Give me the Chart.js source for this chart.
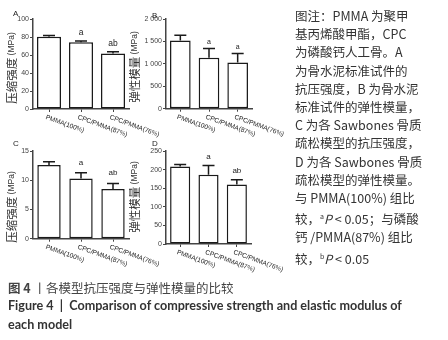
<!DOCTYPE html>
<html>
<head>
<meta charset="utf-8">
<script src="https://cdn.jsdelivr.net/npm/chart.js@4.4.0/dist/chart.umd.min.js"></script>
<style>
html, body { margin: 0; padding: 0; background: #fff; }
#page { position: relative; width: 448px; height: 340px; overflow: hidden; }
canvas { position: absolute; }
.note { position: absolute; left: 295px; top: 7px; font-family: "Noto Sans CJK SC"; font-size: 12.5px; line-height: 18.2px; color: #333; white-space: nowrap; }
.note sup { font-size: 7px; vertical-align: 5px; }
.cap1 { position: absolute; left: 8px; top: 278px; font-family: "Noto Sans CJK SC"; font-size: 12.5px; color: #444; white-space: nowrap; }
.cap2 { position: absolute; left: 8px; top: 296px; font-family: Lato; font-weight: bold; font-size: 12.5px; line-height: 19px; color: #333; white-space: nowrap; }
</style>
</head>
<body>
<div id="page">
  <canvas id="cA" width="180" height="150" style="left:0;top:0"></canvas>
  <canvas id="cB" width="185" height="150" style="left:118px;top:0"></canvas>
  <canvas id="cC" width="180" height="150" style="left:0;top:128px"></canvas>
  <canvas id="cD" width="185" height="150" style="left:118px;top:128px"></canvas>

  <div class="note">
    <div>图注：PMMA 为聚甲</div>
    <div>基丙烯酸甲酯，CPC</div>
    <div>为磷酸钙人工骨。A</div>
    <div>为骨水泥标准试件的</div>
    <div>抗压强度，B 为骨水泥</div>
    <div>标准试件的弹性模量，</div>
    <div>C 为各 Sawbones 骨质</div>
    <div>疏松模型的抗压强度，</div>
    <div>D 为各 Sawbones 骨质</div>
    <div>疏松模型的弹性模量。</div>
    <div>与 PMMA(100%) 组比</div>
    <div>较，<sup>a</sup><i>P</i> &lt; 0.05；与磷酸</div>
    <div>钙 /PMMA(87%) 组比</div>
    <div>较，<sup>b</sup><i>P</i> &lt; 0.05</div>
  </div>

  <div class="cap1"><b>图 4</b> 丨各模型抗压强度与弹性模量的比较</div>
  <div class="cap2"><span id="figline">Figure 4 &nbsp;|&nbsp; Comparison of compressive strength and elastic modulus of</span><br>each model</div>
</div>

<script>
// groups on the x axis
const groups = ['PMMA(100%)', 'CPC/PMMA(87%)', 'CPC/PMMA(76%)'];

// A: compressive strength, standard specimens (MPa)
const strengthStd = [80.3, 74.1, 61.7];
const strengthStdErr = [1.5, 1.5, 1.8];
const strengthStdSig = ['', 'a', 'ab'];

// B: elastic modulus, standard specimens (MPa)
const modulusStd = [1520, 1135, 1030];
const modulusStdErr = [120, 205, 200];
const modulusStdSig = ['', 'a', 'a'];

// C: compressive strength, Sawbones models (MPa)
const strengthBone = [12.6, 10.3, 8.5];
const strengthBoneErr = [0.55, 1.0, 0.95];
const strengthBoneSig = ['', 'a', 'ab'];

// D: elastic modulus, Sawbones models (MPa)
const modulusBone = [208, 186, 160];
const modulusBoneErr = [6, 25, 13];
const modulusBoneSig = ['', 'a', 'ab'];

const fmtThousands = v => v >= 1000 ? String(v).replace(/(\d)(\d{3})$/, '$1 $2') : v;

function makeDecor(o, offX, offY) {
    return {
        id: 'decor',
        afterDatasetsDraw(chart) {
            const ctx = chart.ctx;
            const y = chart.scales.y;
            const meta = chart.getDatasetMeta(0);
            ctx.save();
            ctx.strokeStyle = '#1a1a1a';
            ctx.lineWidth = 1.5;
            ctx.fillStyle = '#222';
            ctx.textAlign = 'center';
            ctx.textBaseline = 'alphabetic';
            ctx.font = o.sigSize + 'px "Liberation Sans"';
            o.values.forEach((v, i) => {
                const bx = meta.data[i].x;
                const yv = y.getPixelForValue(v);
                const ye = y.getPixelForValue(v + o.errs[i]);
                ctx.beginPath();
                ctx.moveTo(bx, yv);
                ctx.lineTo(bx, ye);
                ctx.moveTo(bx - 6, ye);
                ctx.lineTo(bx + 6, ye);
                ctx.stroke();
                if (o.sig[i]) ctx.fillText(o.sig[i], bx, ye - o.sigGap);
            });
            ctx.restore();
        },
        afterDraw(chart) {
            const ctx = chart.ctx;
            const x = chart.scales.x;
            ctx.save();
            // rotated group labels
            ctx.fillStyle = '#222';
            ctx.font = '6.5px "Liberation Sans"';
            ctx.textAlign = 'left';
            ctx.textBaseline = 'top';
            groups.forEach((g, i) => {
                const px = x.getPixelForTick(i);
                ctx.save();
                ctx.translate(px - 2, x.top + 5);
                ctx.rotate(20 * Math.PI / 180);
                ctx.fillText(g, 0, 0);
                ctx.restore();
            });
            // panel letter
            ctx.font = '8px "Liberation Sans"';
            ctx.fillText(o.letter, o.letterPos[0] - offX, o.letterPos[1] - offY);
            // y title, mixed sizes
            ctx.save();
            ctx.translate(o.titlePos[0] - offX, o.titlePos[1] - offY);
            ctx.rotate(-Math.PI / 2);
            ctx.textBaseline = 'middle';
            ctx.font = '11.5px "Noto Sans CJK SC"';
            const w1 = ctx.measureText(o.title).width;
            ctx.font = '8.5px "Liberation Sans"';
            const w2 = ctx.measureText(' (MPa)').width;
            const start = -(w1 + w2) / 2;
            ctx.fillStyle = '#333';
            ctx.font = '11.5px "Noto Sans CJK SC"';
            ctx.fillText(o.title, start, 0);
            ctx.font = '8.5px "Liberation Sans"';
            ctx.fillText(' (MPa)', start + w1, 0);
            ctx.restore();
            ctx.restore();
        }
    };
}

function makeChart(id, o) {
    const c = document.getElementById(id);
    const offX = parseFloat(c.style.left) || 0;
    const offY = parseFloat(c.style.top) || 0;
    const area = {
        left: o.area[0] - offX, top: o.area[1] - offY,
        right: o.area[2] - offX, bottom: o.area[3] - offY
    };
    return new Chart(c, {
        type: 'bar',
        data: {
            labels: groups,
            datasets: [{
                data: o.values,
                backgroundColor: '#fff',
                borderColor: '#1a1a1a',
                borderWidth: 1.5,
                borderSkipped: false,
                barPercentage: o.barPct,
                categoryPercentage: 1.0
            }]
        },
        options: {
            responsive: false,
            animation: false,
            layout: {padding: {left: 0, top: area.top, right: c.width - area.right, bottom: 0}},
            plugins: {legend: {display: false}, tooltip: {enabled: false}},
            scales: {
                x: {
                    grid: {offset: false, drawOnChartArea: false, drawTicks: true, tickLength: 3, color: '#444', lineWidth: 1},
                    border: {color: '#444', width: 1.5},
                    ticks: {display: false},
                    afterFit(s) { s.height = c.height - area.bottom; }
                },
                y: {
                    min: 0,
                    max: o.max,
                    ticks: {stepSize: o.step, font: {family: 'Liberation Sans', size: 7}, color: '#444', padding: 1, callback: fmtThousands},
                    grid: {drawOnChartArea: false, drawTicks: true, tickLength: 3, color: '#444', lineWidth: 1},
                    border: {color: '#444', width: 1.5},
                    afterFit(s) { s.width = area.left; }
                }
            }
        },
        plugins: [makeDecor(o, offX, offY)]
    });
}

makeChart('cA', {
    values: strengthStd, errs: strengthStdErr, sig: strengthStdSig,
    max: 100, step: 20, barPct: 0.75,
    area: [33, 19, 129, 109],
    letter: 'A', letterPos: [13, 10],
    title: '压缩强度', titlePos: [12, 68],
    sigSize: 8.5, sigGap: 6
});
makeChart('cB', {
    values: modulusStd, errs: modulusStdErr, sig: modulusStdSig,
    max: 2000, step: 500, barPct: 0.72,
    area: [166, 19, 252, 108.7],
    letter: 'B', letterPos: [152, 12],
    title: '弹性模量', titlePos: [135, 67],
    sigSize: 7, sigGap: 5
});
makeChart('cC', {
    values: strengthBone, errs: strengthBoneErr, sig: strengthBoneSig,
    max: 15, step: 5, barPct: 0.73,
    area: [33, 151, 129, 238.7],
    letter: 'C', letterPos: [13, 140],
    title: '压缩强度', titlePos: [12, 207],
    sigSize: 8, sigGap: 8
});
makeChart('cD', {
    values: modulusBone, errs: modulusBoneErr, sig: modulusBoneSig,
    max: 250, step: 50, barPct: 0.71,
    area: [166, 151, 251, 244],
    letter: 'D', letterPos: [152, 140],
    title: '弹性模量', titlePos: [135, 197],
    sigSize: 8, sigGap: 7
});

// squeeze the English caption line to the width it has in the figure
const fl = document.getElementById('figline');
const w = fl.getBoundingClientRect().width;
if (w > 0) document.querySelector('.cap2').style.fontSize = (12.5 * 394 / w).toFixed(2) + 'px';
</script>
</body>
</html>
